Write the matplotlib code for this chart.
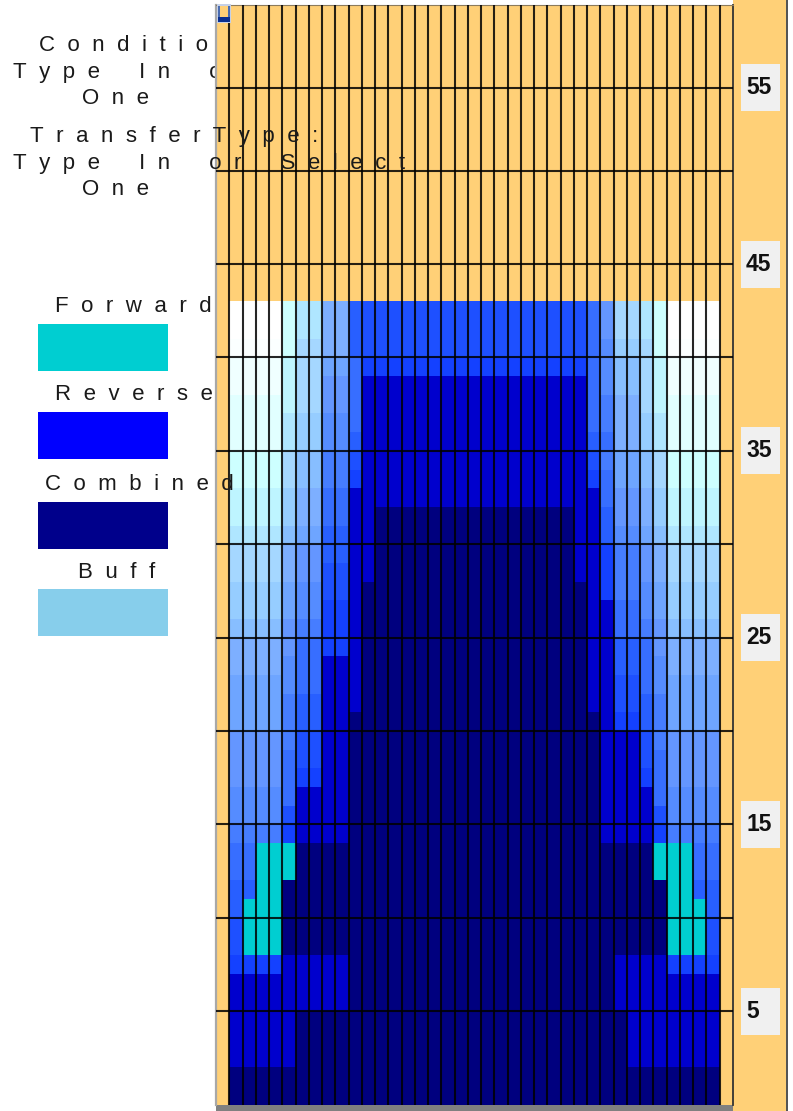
import numpy as np
import matplotlib
matplotlib.use("Agg")
import matplotlib.pyplot as plt
from matplotlib.colors import ListedColormap
from matplotlib.patches import Rectangle

W, H = 793, 1111

# colour levels: 0-18 white to bright blue, then the three flat classes
shades = ["#ffffff", "#fbffff", "#f0ffff", "#e1ffff", "#cdffff", "#bef5ff", "#afe6ff",
          "#a5d7ff", "#96cdff", "#87beff", "#7dafff", "#6ea5ff", "#6496ff", "#558cff",
          "#467dff", "#376eff", "#285fff", "#1e50ff", "#1441ff",
          "#0000cd", "#00007f", "#00ced1"]
MED, NAVY, TEAL = 19, 20, 21

# every column lists rows 43 (top) down to 1
top_a = [0, 0, 1, 2, 2, 3, 3, 3, 4, 4, 5, 5, 6, 7, 7, 8, 8, 9, 10, 10, 11, 11, 11, 12, 12, 12, 13, 13, 14]
col_1 = top_a + [15, 15, 16, 16, 17, 17, 18] + [MED] * 5 + [NAVY] * 2
col_2 = top_a + [15, 15, 16] + [TEAL] * 3 + [18] + [MED] * 5 + [NAVY] * 2
col_3 = top_a + [TEAL] * 6 + [18] + [MED] * 5 + [NAVY] * 2
col_5 = [4, 4, 4, 5, 5, 5, 6, 6, 7, 7, 8, 8, 9, 10, 10, 11, 11, 12, 12, 13, 13, 14, 14, 14, 15, 15, 15, 17, 18] \
    + [TEAL] * 2 + [NAVY] * 4 + [MED] * 6 + [NAVY] * 2
top_c = [6, 6, 7, 7, 7, 7, 8, 8, 9, 9, 10, 10, 11, 12, 12, 13, 13, 14, 15, 15, 15, 16, 16, 17, 17, 18]
col_6 = top_c + [MED] * 3 + [NAVY] * 6 + [MED] * 3 + [NAVY] * 5
col_8 = [10, 10, 10, 11, 12, 12, 13, 13, 14, 14, 15, 15, 16, 16, 17, 17, 18, 18, 18] \
    + [MED] * 10 + [NAVY] * 6 + [MED] * 3 + [NAVY] * 5
col_10 = [16, 16, 16, 15, 15, 15, 15, 16, 17, 18] + [MED] * 12 + [NAVY] * 21
col_11 = [17, 17, 17, 18] + [MED] * 11 + [NAVY] * 28
col_12 = [17, 17, 17, 18] + [MED] * 7 + [NAVY] * 32
col_28 = [15, 15, 15, 15, 15, 15, 15, 16, 17, 18] + [MED] * 12 + [NAVY] * 21
col_29 = [12, 12, 13, 13, 13, 14, 14, 15, 14, 15, 15, 16, 16, 18, 18, 18] \
    + [MED] * 13 + [NAVY] * 14
top_r = [7, 7, 8, 9, 9, 10, 10, 10, 11, 11, 12, 12, 13, 14, 14, 14, 15, 15, 16, 16, 17, 17, 18]
col_30 = top_r + [MED] * 6 + [NAVY] * 6 + [MED] * 3 + [NAVY] * 5
col_31 = top_r + [MED] * 6 + [NAVY] * 6 + [MED] * 6 + [NAVY] * 2
col_32 = top_c + [MED] * 3 + [NAVY] * 6 + [MED] * 6 + [NAVY] * 2

left_cols = [col_1, col_2, col_3, col_3, col_5, col_6, col_6, col_8, col_8, col_10, col_11]
mid_cols = [col_12] * 15
right_cols = [col_11, col_28, col_29, col_30, col_31, col_32, col_5, col_3, col_3, col_2, col_1]

tick_vals = [5, 10, 15, 20, 25, 30, 35, 40, 45, 50, 55]
box_ticks = [5, 15, 25, 35, 45, 55]

legend_names = ["Forward", "Reverse", "Combined", "Buff"]
legend_colors = ["#00ced1", "#0000ff", "#00008b", "#87ceeb"]


def spaced(s):
    # the page stretches letters and stretches word gaps a bit more
    gap = "\u2009\u200a "
    word_gap = gap + "  \u200a" + gap
    return word_gap.join(gap.join(w) for w in s.split(" "))


def px_rect(x0, y0, x1, y1, color, zorder=1):
    r = Rectangle((x0 / W, 1 - y1 / H), (x1 - x0) / W, (y1 - y0) / H, transform=fig.transFigure,
                  facecolor=color, edgecolor="none", zorder=zorder)
    fig.add_artist(r)


def px_text(x, y, s, zorder=5):
    fig.text(x / W, 1 - y / H, spaced(s), fontsize=16, color="#1a1a1a", ha="left", va="baseline",
             family=["Liberation Sans", "DejaVu Sans"], zorder=zorder)


def squeeze_top(y):
    y = np.asarray(y, dtype=float)
    return np.where(y <= 50, y, 50 + (y - 50) * 0.89)


def unsqueeze_top(y):
    y = np.asarray(y, dtype=float)
    return np.where(y <= 50, y, 50 + (y - 50) / 0.89)


fig = plt.figure(figsize=(W / 100, H / 100), dpi=100, facecolor="white")

# yellow strip on the right and grey foot under the grid
px_rect(733, 0, 786, H, "#ffd077", zorder=-2)
px_rect(786, 0, 788, H, "#555555", zorder=-2)
px_rect(216, 1105, 733, H, "#808080", zorder=-2)

ax = fig.add_axes([216 / W, 1 - 1104.5 / H, 517 / W, 1100 / H], facecolor="#ffd077")
ax.set_yscale("function", functions=(squeeze_top, unsqueeze_top))

grid = np.array(left_cols + mid_cols + right_cols).T[::-1]
x_edges = np.arange(1, 39)
y_edges = np.arange(0, 44)
ax.pcolormesh(x_edges, y_edges, grid, cmap=ListedColormap(shades), vmin=-0.5, vmax=21.5,
              antialiased=False, linewidth=0)

ax.set_xlim(0, 39)
ax.set_ylim(0, 60)
ax.set_xticks(np.arange(1, 39))
ax.set_yticks(tick_vals)
ax.set_axisbelow(False)
ax.grid(True, color="#000000", linewidth=1.5, alpha=0.85)
ax.tick_params(length=0, labelbottom=False, labelleft=False)
ax.spines["top"].set_color("#8c7b5c")
ax.spines["left"].set_color("#a8a8a8")
ax.spines["left"].set_linewidth(1.6)
ax.spines["right"].set_color("#333333")
ax.spines["right"].set_linewidth(1.3)
ax.spines["bottom"].set_visible(False)

# value boxes next to the grid
for v in box_ticks:
    y_px = 1104.5 - ax.get_window_extent().height * squeeze_top(v) / squeeze_top(60)
    px_rect(740.5, y_px - 23.5, 780, y_px + 23.5, "#f0f0f0", zorder=2)
    fig.text(746 / W, 1 - y_px / H, str(v), fontsize=16.5, fontweight="bold", va="center", ha="left",
             color="#111111", family="Liberation Sans", zorder=3)

# small corner handle
px_rect(217, 4, 231, 23, "#c5d0e6", zorder=4)
px_rect(218, 6, 230, 22, "#4a6cb0", zorder=4)
px_rect(220, 6, 228, 17, "#ffd077", zorder=4)
px_rect(218, 17, 230, 22, "#0a2f8f", zorder=4)

# this block sits under the grid, the grid cuts it off
px_text(39, 51, "Condition:", zorder=-1)
px_text(13, 78, "Type In or Select", zorder=-1)
px_text(82, 104, "One", zorder=-1)

px_text(30, 142, "TransferType:")
px_text(13, 169, "Type In or Select")
px_text(82, 195, "One")

legend_text_y = [312, 400, 490, 578]
legend_text_x = [55, 55, 45, 78]
legend_box_y = [324, 412, 502, 589]
for name, c, ty, tx, by in zip(legend_names, legend_colors, legend_text_y, legend_text_x, legend_box_y):
    px_text(tx, ty, name)
    px_rect(38, by, 168, by + 47, c, zorder=2)

fig.savefig("out.png", dpi=100)
